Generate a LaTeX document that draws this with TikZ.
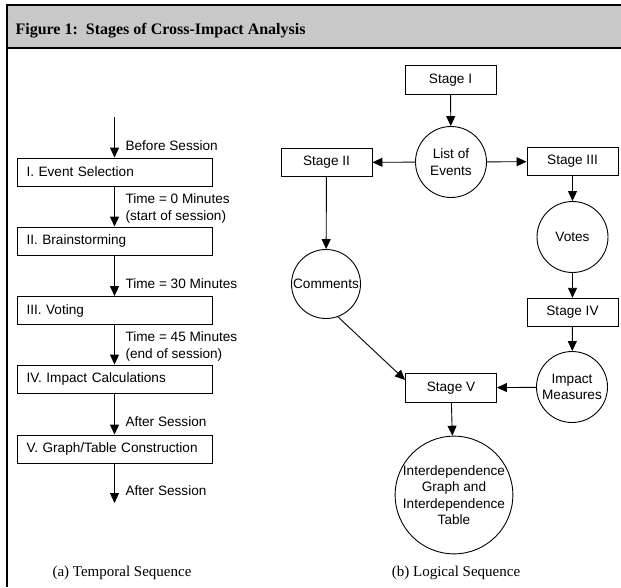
\documentclass[tikz,border=0pt]{standalone}
\usepackage{fontspec}
\setmainfont{Liberation Serif}
\setsansfont{Liberation Sans}
\usetikzlibrary{arrows.meta}
\definecolor{hdrgray}{RGB}{200,200,200}
\begin{document}
\begin{tikzpicture}[x=1pt,y=-1pt,
  every node/.style={font=\sffamily\fontsize{13.6}{16.5}\selectfont, text=black},
  boxl/.style={draw, line width=0.9pt, minimum width=195pt, minimum height=28pt,
    text width=176pt, align=left, inner xsep=9.5pt, inner ysep=0pt},
  boxr/.style={draw, line width=0.9pt, minimum width=91pt, minimum height=28.5pt, inner sep=0pt},
  circ/.style={draw, circle, line width=0.9pt, minimum size=71pt, inner sep=0pt, align=center},
  arr/.style={line width=0.9pt, -{Triangle[length=10pt,width=9pt]}},
  lbl/.style={anchor=west, align=left},
  captxt/.style={font=\rmfamily\fontsize{15}{17}\selectfont}
]
\useasboundingbox (0,0) rectangle (621,587);
\fill[white] (0,0) rectangle (621,587);
% header
\fill[hdrgray] (7,5) rectangle (621,48);
\draw[line width=2pt] (7,5) -- (621,5);
\draw[line width=1.3pt] (7,48) -- (621,48);
\draw[line width=2pt] (7,4) -- (7,48);
\draw[line width=1.2pt] (7,48) -- (7,587);
\node[anchor=west, font=\rmfamily\bfseries\fontsize{16}{18}\selectfont] (title) at (12,31) {Figure 1:\ \ Stages of Cross-Impact Analysis};

% left column
\coordinate (top) at (114.5,117);
\node[boxl] (b1) at (114.5,172) {I. Event Selection};
\node[boxl] (b2) at (114.5,241) {II. Brainstorming};
\node[boxl] (b3) at (114.5,310.5) {III. Voting};
\node[boxl] (b4) at (114.5,379) {IV. Impact Calculations};
\node[boxl] (b5) at (114.5,449) {V. Graph/Table Construction};
\coordinate (bot) at (114.5,503);
\draw[arr] (top) -- (b1);
\draw[arr] (b1) -- (b2);
\draw[arr] (b2) -- (b3);
\draw[arr] (b3) -- (b4);
\draw[arr] (b4) -- (b5);
\draw[arr] (b5) -- (bot);
\node[lbl] (l0) at (122,146) {Before Session};
\node[lbl] (l1) at (122,208.5) {Time = 0 Minutes\\(start of session)};
\node[lbl] (l2) at (122,284) {Time = 30 Minutes};
\node[lbl] (l3) at (122,346.5) {Time = 45 Minutes\\(end of session)};
\node[lbl] (l4) at (122,422) {After Session};
\node[lbl] (l5) at (122,491) {After Session};
\node[captxt] (capa) at (122,573) {(a) Temporal Sequence};

% right column
\node[boxr] (s1) at (450.5,80) {Stage I};
\node[circ] (le) at (451,162) {List of\\Events};
\node[boxr] (s2) at (326.5,162.5) {Stage II};
\node[boxr] (s3) at (572.5,161.5) {Stage III};
\node[circ] (vo) at (572.5,237) {Votes};
\node[circ, minimum size=69pt] (cm) at (326,284) {Comments};
\node[boxr] (s4) at (572.5,312.5) {Stage IV};
\node[circ] (im) at (572,387) {Impact\\Measures};
\node[boxr] (s5) at (451,388) {Stage V};
\node[circ, minimum size=117pt] (ig) at (454,495) {Interdependence\\Graph and\\Interdependence\\Table};
\node[captxt] (capb) at (456,573) {(b) Logical Sequence};

\draw[arr] (s1) -- (le);
\draw[arr] (le) -- (s2);
\draw[arr] (le) -- (s3);
\draw[arr] (s2) -- (cm);
\draw[arr] (s3) -- (vo);
\draw[arr] (vo) -- (s4);
\draw[arr] (s4) -- (im);
\draw[arr] (cm.-70) -- (s5.170);
\draw[arr] (im) -- (s5);
\draw[arr] (s5) -- (ig);
\end{tikzpicture}
\end{document}
